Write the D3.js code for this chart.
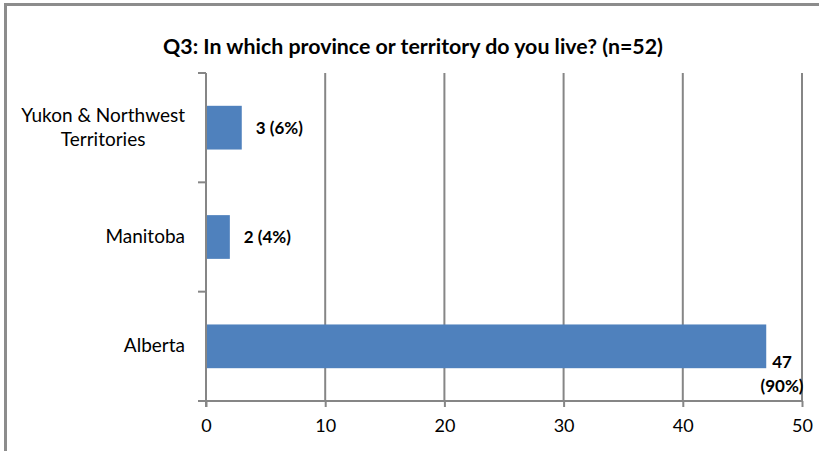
<!DOCTYPE html>
<html>
<head>
<meta charset="utf-8">
<script src="https://cdn.jsdelivr.net/npm/d3@7"></script>
<style>
html,body{margin:0;padding:0;background:#fff;}
svg{display:block;font-family:Lato, "Open Sans", sans-serif;}
</style>
</head>
<body>
<svg id="chart" width="819" height="451"></svg>
<script>
const title = "Q3: In which province or territory do you live? (n=52)";
const categories = [["Yukon & Northwest", "Territories"], ["Manitoba"], ["Alberta"]];
const values = [3, 2, 47];
const percents = ["6%", "4%", "90%"];
const xTicks = [0, 10, 20, 30, 40, 50];

const svg = d3.select("#chart");
const gridColor = "#868686";

// outer frame (extends beyond the window on right/bottom)
svg.append("rect").attr("x", 5.5).attr("y", 4.5).attr("width", 900).attr("height", 600)
  .attr("fill", "none").attr("stroke", "#8c8c8c").attr("stroke-width", 3);

svg.append("text").attr("x", 413).attr("y", 54).attr("text-anchor", "middle")
  .attr("font-weight", "bold").attr("font-size", 20).attr("fill", "#000")
  .attr("textLength", 500).attr("lengthAdjust", "spacingAndGlyphs")
  .text(title);

const x = d3.scaleLinear().domain([0, 50]).range([206, 802]);
const y = d3.scaleBand().domain(categories.map((d, i) => i)).range([73, 401]).paddingInner(0.6).paddingOuter(0.3);
const yb = d3.scaleBand().domain(categories.map((d, i) => i)).range([73, 401]);

// gridlines
svg.append("g").selectAll("line").data(xTicks.slice(1)).join("line")
  .attr("x1", d => x(d)).attr("x2", d => x(d)).attr("y1", 73).attr("y2", 401)
  .attr("stroke", gridColor).attr("stroke-width", 2);

// bars
svg.append("g").selectAll("rect").data(values).join("rect")
  .attr("x", x(0)).attr("y", (d, i) => y(i)).attr("width", d => x(d) - x(0)).attr("height", y.bandwidth())
  .attr("fill", "#4f81bd");

// y axis line
svg.append("line").attr("x1", 206).attr("x2", 206).attr("y1", 73).attr("y2", 407)
  .attr("stroke", gridColor).attr("stroke-width", 2);
// y tick marks at band boundaries
const bounds = [73, ...categories.map((d, i) => yb(i) + yb.bandwidth())];
svg.append("g").selectAll("line").data(bounds).join("line")
  .attr("x1", 198).attr("x2", 206).attr("y1", d => d).attr("y2", d => d)
  .attr("stroke", gridColor).attr("stroke-width", 2);

// x axis
const xAxis = svg.append("g").attr("transform", "translate(0,401)")
  .call(d3.axisBottom(x).tickValues(xTicks).tickSize(6).tickPadding(12).tickSizeOuter(0));
xAxis.select(".domain").attr("stroke", gridColor).attr("stroke-width", 2).attr("d", "M198,0H803");
xAxis.selectAll(".tick line").attr("stroke", gridColor).attr("stroke-width", 2);
xAxis.selectAll(".tick text").attr("font-size", 18).attr("font-family", "Lato, sans-serif").attr("fill", "#000");

// category labels
categories.forEach((lines, i) => {
  const cy = yb(i) + yb.bandwidth() / 2;
  const g = svg.append("g");
  const lh = 24;
  const texts = lines.map((t, j) => g.append("text")
    .attr("y", cy + (j - (lines.length - 1) / 2) * lh + 6)
    .attr("font-size", 19).attr("fill", "#000").text(t));
  const widths = texts.map(t => t.node().getComputedTextLength());
  const maxW = d3.max(widths);
  const cx = 185 - maxW / 2;
  texts.forEach(t => t.attr("x", cx).attr("text-anchor", "middle"));
});

// data labels
values.forEach((v, i) => {
  const cy = y(i) + y.bandwidth() / 2;
  if (i === 2) {
    const cx = 782;
    svg.append("text").attr("x", cx).attr("y", cy + 22).attr("text-anchor", "middle")
      .attr("font-weight", "bold").attr("font-size", 17).text(v);
    svg.append("text").attr("x", cx).attr("y", cy + 46).attr("text-anchor", "middle")
      .attr("font-weight", "bold").attr("font-size", 17).text("(" + percents[i] + ")");
  } else {
    svg.append("text").attr("x", x(v) + 14).attr("y", cy + 6)
      .attr("font-weight", "bold").attr("font-size", 17).text(v + " (" + percents[i] + ")");
  }
});
</script>
</body>
</html>
